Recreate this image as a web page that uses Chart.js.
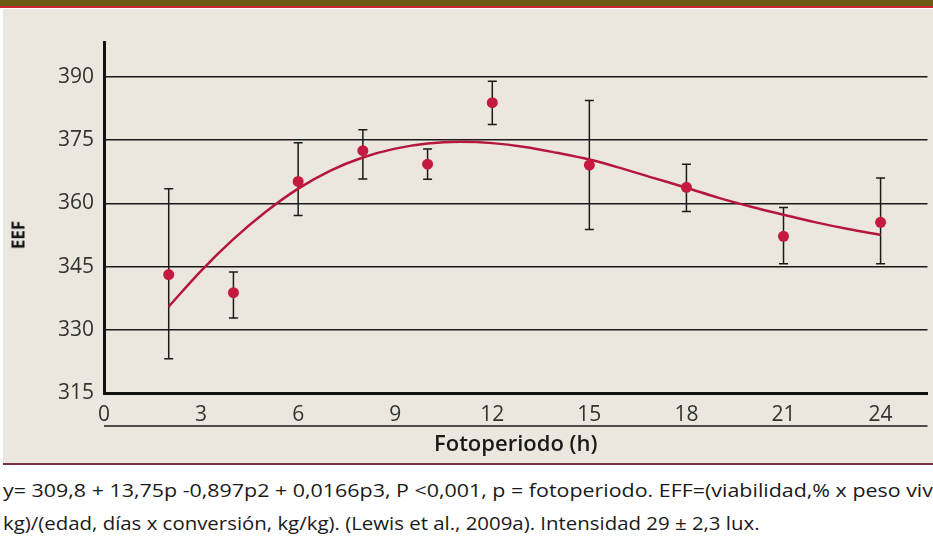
<!DOCTYPE html>
<html>
<head>
<meta charset="utf-8">
<script src="https://cdn.jsdelivr.net/npm/chart.js@4.4.1/dist/chart.umd.min.js"></script>
<style>
body{margin:0;width:933px;height:541px;position:relative;overflow:hidden;background:#fff;font-family:"Open Sans",sans-serif;}
#bar{position:absolute;left:0;top:0;width:933px;height:6px;background:#6b5a12;border-bottom:2px solid #c4262e;}
#panel{position:absolute;left:3px;top:9px;width:930px;height:454px;background:#ece7de;border-bottom:2px solid #7d3042;}
#wrap{position:absolute;left:0;top:9px;width:933px;height:454px;}
#eef{position:absolute;left:18px;top:235px;transform:translate(-50%,-50%) rotate(-90deg);font-weight:700;font-size:17px;color:#111;}
.cap{position:absolute;left:3px;white-space:nowrap;font-size:19px;color:#1a1a1a;transform-origin:0 50%;line-height:24px;}
</style>
</head>
<body>
<div id="bar"></div>
<div id="panel"></div>
<div id="wrap"><canvas id="myChart" width="933" height="454"></canvas></div>
<div id="eef">EEF</div>
<div class="cap" id="cap1" style="top:478px"><span id="cap1a">y= 309,8 + 13,75p -0,897p2 + 0,0166p3, P &lt;0,001, p = fotoperiodo. EFF=(viabilidad,% x peso viv</span>o,</div>
<div class="cap" id="cap2" style="top:511px">kg)/(edad, días x conversión, kg/kg). (Lewis et al., 2009a). Intensidad 29 ± 2,3 lux.</div>
<script>
// puntos medidos (fotoperiodo en h) con barras de error
const hours = [2, 4, 6, 8, 10, 12, 15, 18, 21, 24];
const eef = [343.1, 338.8, 365.2, 372.5, 369.3, 383.9, 369.1, 363.8, 352.2, 355.5];
const errLow = [323.1, 332.8, 357.1, 365.8, 365.7, 378.7, 353.8, 358.1, 345.7, 345.7];
const errHigh = [363.5, 343.7, 374.4, 377.5, 372.9, 389.0, 384.4, 369.3, 359.0, 366.0];

// curva ajustada
const curveX = [2, 3, 4, 5, 6, 7, 8, 9, 10, 11, 12, 13, 14, 15, 16, 17, 18, 19, 20, 21, 22, 23, 24];
const curveY = [335.5, 344, 351.5, 358, 363.5, 367.8, 370.9, 373, 374.2, 374.6, 374.3, 373.4, 372, 370.4, 368.3, 366, 363.7, 361.3, 359.2, 357.3, 355.5, 353.9, 352.5];

const xTicks = [0, 3, 6, 9, 12, 15, 18, 21, 24];
const yTicks = [315, 330, 345, 360, 375, 390];

const errorBars = {
  id: "errorBars",
  beforeDatasetsDraw(chart){
    const ctx = chart.ctx;
    const x = chart.scales.x;
    const y = chart.scales.y;
    ctx.save();
    ctx.strokeStyle = "#1a1a1a";
    ctx.lineWidth = 1.5;
    hours.forEach((h, i) => {
      const px = x.getPixelForValue(h);
      const top = y.getPixelForValue(errHigh[i]);
      const bot = y.getPixelForValue(errLow[i]);
      ctx.beginPath();
      ctx.moveTo(px, top); ctx.lineTo(px, bot);
      ctx.moveTo(px - 4.5, top); ctx.lineTo(px + 4.5, top);
      ctx.moveTo(px - 4.5, bot); ctx.lineTo(px + 4.5, bot);
      ctx.stroke();
    });
    ctx.restore();
  }
};

const underLine = {
  id: "underLine",
  afterDraw(chart){
    const ctx = chart.ctx;
    const x = chart.scales.x;
    const yy = chart.chartArea.bottom + 33;
    ctx.save();
    ctx.strokeStyle = "#1a1a1a";
    ctx.lineWidth = 1.5;
    ctx.beginPath();
    ctx.moveTo(x.left, yy);
    ctx.lineTo(x.right, yy);
    ctx.stroke();
    ctx.restore();
  }
};

const ctx = document.getElementById("myChart").getContext("2d");
const myChart = new Chart(ctx, {
  type: "scatter",
  data: {
    datasets: [
      {
        label: "EEF",
        data: hours.map((h, i) => ({x: h, y: eef[i]})),
        backgroundColor: "#c41a3f",
        borderColor: "#c41a3f",
        pointRadius: 5.5,
        borderWidth: 0
      },
      {
        label: "ajuste",
        data: curveX.map((h, i) => ({x: h, y: curveY[i]})),
        showLine: true,
        borderColor: "#b5173c",
        borderWidth: 2.5,
        pointRadius: 0,
        cubicInterpolationMode: "monotone"
      }
    ]
  },
  options: {
    responsive: false,
    animation: false,
    devicePixelRatio: 1,
    layout: {padding: {top: 33, left: 0, right: 0, bottom: 0}},
    plugins: {legend: {display: false}, tooltip: {enabled: false}},
    scales: {
      x: {
        type: "linear",
        min: 0,
        max: 25.45,
        afterBuildTicks: axis => { axis.ticks = xTicks.map(v => ({value: v})); },
        afterFit: axis => { axis.height = 70; },
        grid: {display: false},
        border: {display: true, color: "#111", width: 3},
        ticks: {padding: 1, color: "#333", font: {family: "Open Sans", size: 21, weight: 400}},
        title: {
          display: true,
          text: "Fotoperiodo (h)",
          color: "#1a1a1a",
          font: {family: "Open Sans", size: 22, weight: 600},
          padding: {top: 0, bottom: 5}
        }
      },
      y: {
        min: 315,
        max: 398.3,
        afterBuildTicks: axis => { axis.ticks = yTicks.map(v => ({value: v})); },
        afterFit: axis => { axis.width = 104; },
        grid: {display: true, color: "#1a1a1a", lineWidth: 1.5, drawTicks: false},
        border: {display: true, color: "#111", width: 3},
        ticks: {padding: 10, color: "#333", font: {family: "Open Sans", size: 21, weight: 400}}
      }
    }
  },
  plugins: [errorBars, underLine]
});

// ajustar el ancho del pie de figura
const cap1 = document.getElementById("cap1");
const cap2 = document.getElementById("cap2");
const k1 = 930 / document.getElementById("cap1a").offsetWidth;
const k2 = 757 / cap2.offsetWidth;
cap1.style.transform = `scaleX(${k1})`;
cap2.style.transform = `scaleX(${k2})`;
</script>
</body>
</html>
